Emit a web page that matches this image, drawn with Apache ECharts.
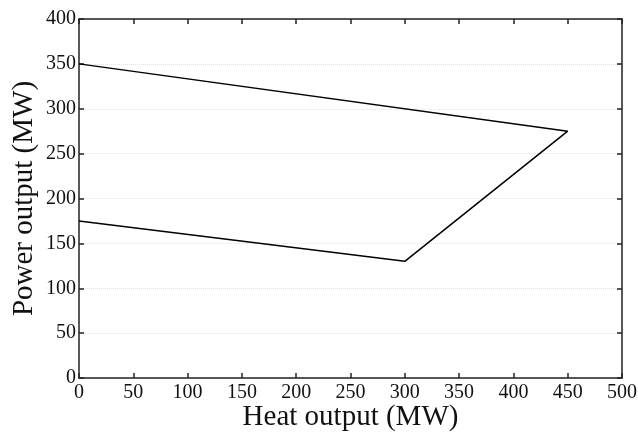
<!DOCTYPE html>
<html><head><meta charset="utf-8">
<script src="https://cdn.jsdelivr.net/npm/echarts@6/dist/echarts.min.js"></script>
<style>html,body{margin:0;padding:0;background:#fff}#c{width:638px;height:432px}</style>
</head><body><div id="c"></div>
<script>
const heatOutput = [0, 450, 300, 0];
const powerOutput = [350, 275, 130, 175];
const xTicks = [0, 50, 100, 150, 200, 250, 300, 350, 400, 450, 500];
const yTicks = [0, 50, 100, 150, 200, 250, 300, 350, 400];
const xName = 'Heat output (MW)';
const yName = 'Power output (MW)';

const font = 'Liberation Serif';
const axisLineStyle = {color: '#222', width: 1.5};
function xAxis(pos, show) {
  return {
    type: 'value', position: pos, min: 0, max: 500, interval: 50,
    name: show ? xName : '', nameLocation: 'middle', nameGap: 25, nameMoveOverlap: false,
    nameTextStyle: {fontFamily: font, fontSize: 29, color: '#111', verticalAlign: 'top'},
    axisLine: {show: true, onZero: false, lineStyle: axisLineStyle},
    axisTick: {show: true, inside: true, length: 5, lineStyle: axisLineStyle},
    axisLabel: {show: show, fontFamily: font, fontSize: 20, color: '#111', margin: 5},
    splitLine: {show: false}
  };
}
function yAxis(pos, show) {
  return {
    type: 'value', position: pos, min: 0, max: 400, interval: 50,
    name: show ? yName : '', nameLocation: 'middle', nameGap: 40, nameMoveOverlap: false,
    nameTextStyle: {fontFamily: font, fontSize: 29, color: '#111', verticalAlign: 'bottom'},
    axisLine: {show: true, onZero: false, lineStyle: axisLineStyle},
    axisTick: {show: true, inside: true, length: 5, lineStyle: axisLineStyle},
    axisLabel: {show: show, fontFamily: font, fontSize: 20, color: '#111', margin: 3},
    splitLine: {show: show, lineStyle: {color: '#e2e2e2', width: 1, type: 'dotted'}}
  };
}
const chart = echarts.init(document.getElementById('c'));
chart.setOption({
  animation: false,
  backgroundColor: '#fff',
  grid: {left: 79, right: 16, top: 19, bottom: 54, containLabel: false, outerBoundsMode: 'none'},
  xAxis: [xAxis('bottom', true), xAxis('top', false)],
  yAxis: [yAxis('left', true), yAxis('right', false)],
  series: [{
    type: 'line',
    data: heatOutput.map((h, i) => [h, powerOutput[i]]),
    showSymbol: false,
    lineStyle: {color: '#000', width: 1.5},
    itemStyle: {color: '#000'}
  }]
});
</script></body></html>
